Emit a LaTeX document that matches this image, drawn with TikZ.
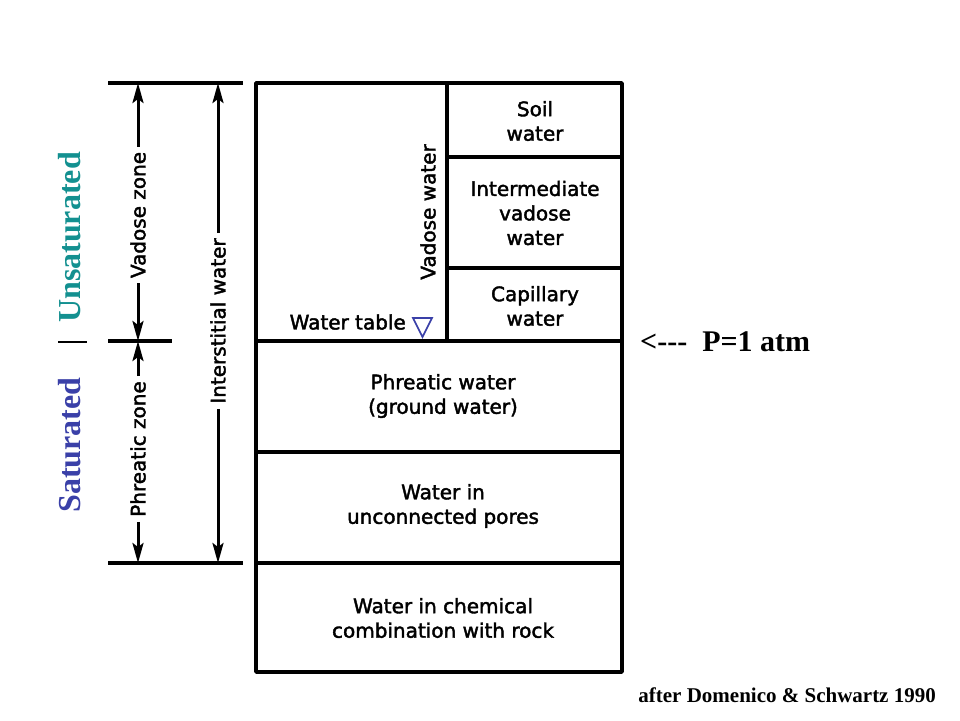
\documentclass[tikz,border=0pt]{standalone}
\usepackage{fontspec}
\setmainfont{Liberation Serif}
\newfontfamily\lbl[FakeBold=2]{DejaVu Sans}
\usetikzlibrary{arrows.meta}
\definecolor{teal2}{HTML}{139090}
\definecolor{blue2}{HTML}{3A40A8}
\begin{document}
\begin{tikzpicture}[x=1pt,y=-1pt,
  boxline/.style={line width=3.4pt,line cap=round,line join=round},
  dimline/.style={line width=3.2pt},
  arrline/.style={line width=3pt,arrows={-Stealth[length=20pt,width=11pt,inset=4pt]}},
  lab/.style={font=\lbl\fontsize{20}{24.5}\selectfont,align=center,inner sep=0pt},
  rlab/.style={lab,rotate=90,inner sep=5pt},
  big/.style={font=\bfseries\fontsize{32}{36}\selectfont,rotate=90,inner sep=0pt}]
\useasboundingbox (0,0) rectangle (960,720);
\fill[white] (0,0) rectangle (960,720);
% main column
\draw[boxline] (256,83) rectangle (622,672);
\draw[boxline] (256,341) -- (622,341);
\draw[boxline] (256,452) -- (622,452);
\draw[boxline] (256,563) -- (622,563);
\draw[boxline] (447,83) -- (447,341);
\draw[boxline] (447,157) -- (622,157);
\draw[boxline] (447,268) -- (622,268);
% cell labels
\node[lab] (soil) at (535,121) {Soil\\water};
\node[lab] (inter) at (535,213) {Intermediate\\vadose\\water};
\node[lab] (cap) at (535,306) {Capillary\\water};
\node[lab] (phr) at (443,396) {Phreatic water\\(ground water)};
\node[lab] (unc) at (443,506) {Water in\\unconnected pores};
\node[lab] (chem) at (443,618) {Water in chemical\\combination with rock};
\node[lab,rotate=90] (vw) at (428,212) {Vadose water};
\node[lab,anchor=east] (wt) at (406,322) {Water table};
\draw[blue2,line width=1.6pt,line join=miter] (413,318) -- (432,318) -- (422.5,337) -- cycle;
% dimension lines
\draw[dimline] (108,83) -- (243,83);
\draw[dimline] (108,341) -- (172,341);
\draw[dimline] (108,563) -- (243,563);
\coordinate (vt) at (138,83);
\coordinate (vb) at (138,341);
\coordinate (pb) at (138,563);
\coordinate (it) at (218,83);
\coordinate (ib) at (218,563);
\node[rlab] (vz) at (138,215) {Vadose zone};
\node[rlab] (pz) at (138,449) {Phreatic zone};
\node[rlab] (iw) at (218,321) {Interstitial water};
\draw[arrline] (vz.east) -- (vt);
\draw[arrline] (vz.west) -- (vb);
\draw[arrline] (pz.east) -- (vb);
\draw[arrline] (pz.west) -- (pb);
\draw[arrline] (iw.east) -- (it);
\draw[arrline] (iw.west) -- (ib);
% side labels
\node[big,text=teal2] (uns) at (70,237.5) {Unsaturated};
\node[big,text=blue2] (sat) at (70,445) {Saturated};
\draw[line width=1.8pt] (58,342) -- (87,342);
\node[font=\bfseries\fontsize{30}{34}\selectfont,anchor=west,inner sep=0pt] (p) at (640,342) {<{-}{-}{-}\ \ P=1 atm};
\node[font=\bfseries\fontsize{21}{24}\selectfont,anchor=base east,inner sep=0pt] (ref) at (936,702) {after Domenico \& Schwartz 1990};
\end{tikzpicture}
\end{document}
